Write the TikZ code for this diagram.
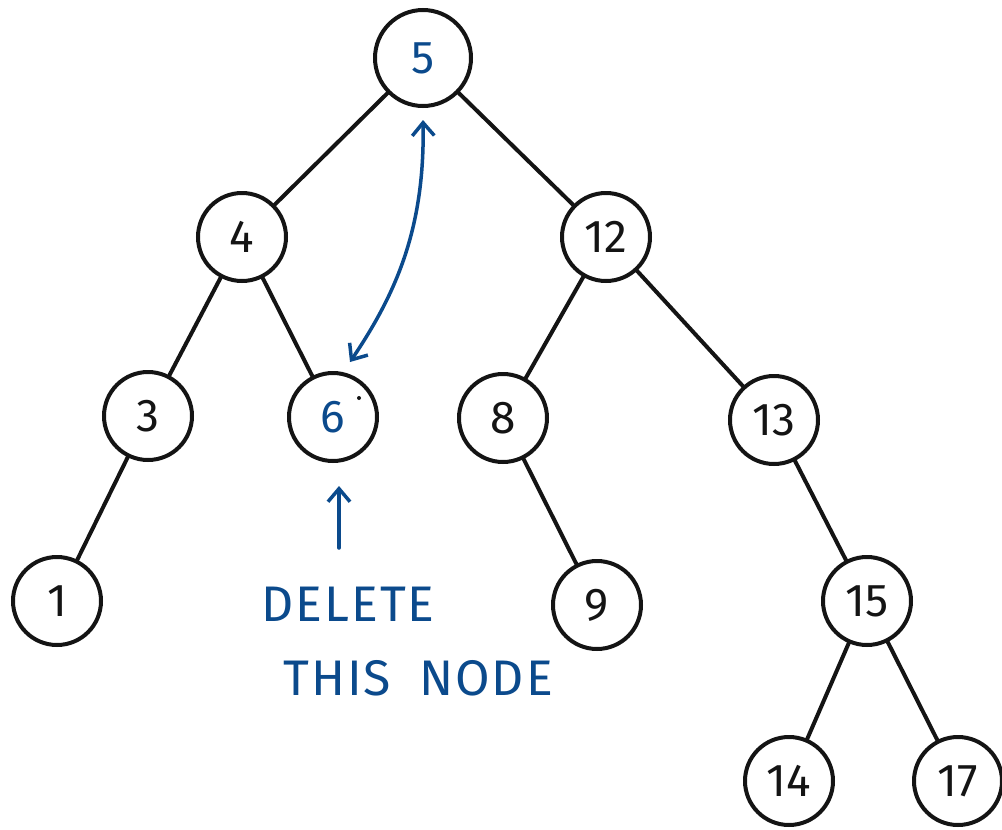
\documentclass[tikz,border=0pt]{standalone}
\usepackage{fontspec}
\setmainfont{Fira Sans}
\usetikzlibrary{arrows.meta}
\definecolor{ink}{HTML}{141414}
\definecolor{pen}{HTML}{0B4A8C}
\tikzset{
  tn/.style={circle, draw=ink, line width=4pt, minimum size=88pt, inner sep=0pt, font=\fontsize{46}{46}\selectfont, text=ink},
  big/.style={tn, minimum size=96pt},
  hl/.style={text=pen},
  edge/.style={draw=ink, line width=4pt, line cap=round},
  barb/.tip={Straight Barb[length=13pt,width=22pt,line width=3.5pt]},
  bluearrow/.style={draw=pen, line width=3.5pt, line cap=round, -barb},
  note/.style={text=pen, font=\fontsize{50}{50}\selectfont, inner sep=0pt}
}
\begin{document}
\begin{tikzpicture}[x=1pt,y=-1pt]
\useasboundingbox (0,0) rectangle (1002,830);
\node[big,hl] (n5) at (423,58) {5};
\node[tn] (n4) at (242,237) {4};
\node[tn] (n12) at (606,237) {12};
\node[tn] (n3) at (148,416) {3};
\node[tn,hl] (n6) at (333,417) {6};
\node[tn] (n8) at (503,418) {8};
\node[tn] (n13) at (774,420) {13};
\node[tn] (n1) at (57,601) {1};
\node[tn] (n9) at (597,605) {9};
\node[tn] (n15) at (867,601) {15};
\node[tn] (n14) at (789,781) {14};
\node[tn] (n17) at (958,781) {17};
\foreach \a/\b in {n5/n4,n5/n12,n4/n3,n4/n6,n12/n8,n12/n13,n3/n1,n8/n9,n13/n15,n15/n14,n15/n17}
  \draw[edge] (\a) -- (\b);
\fill[ink] (359,398) circle (2pt);
% double curved arrow between 5 and 6
\coordinate (a6) at (350,362);
\coordinate (a5) at (423,120);
\draw[bluearrow, barb-barb] (a6) .. controls (395,295) and (425,230) .. (a5);
% pointer to 6
\coordinate (p0) at (339,548);
\coordinate (p1) at (339,486);
\draw[bluearrow] (p0) -- (p1);
\node[note] (del) at (348,604) {D\kern2ptE\kern2ptL\kern2ptE\kern2ptT\kern2ptE};
\node[note] (thn) at (418,678) {T\kern2ptH\kern2ptI\kern2ptS\hspace{28pt}N\kern2ptO\kern2ptD\kern2ptE};
\end{tikzpicture}
\end{document}
